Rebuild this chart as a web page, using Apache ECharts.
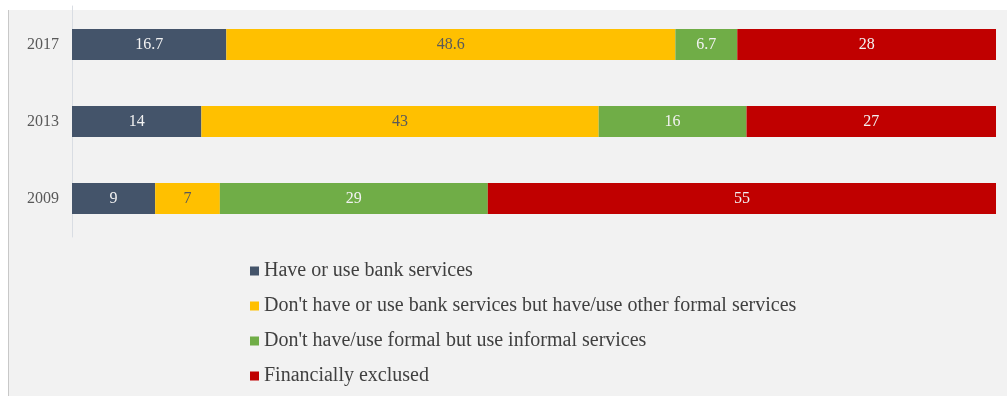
<!DOCTYPE html>
<html>
<head>
<meta charset="utf-8">
<script src="https://cdn.jsdelivr.net/npm/echarts@6/dist/echarts.min.js"></script>
<style>
  html, body { margin: 0; padding: 0; background: #ffffff; }
  #chart { width: 1007px; height: 396px; }
</style>
</head>
<body>
<div id="chart"></div>
<script>
// Survey years (bottom to top)
const years = ['2009', '2013', '2017'];

// Share of population (%) by access category, per year
const bankServices     = [9, 14, 16.7];
const otherFormal      = [7, 43, 48.6];
const informalOnly     = [29, 16, 6.7];
const excluded         = [55, 27, 28];

const seriesNames = [
  'Have or use bank services',
  "Don't have or use bank services but have/use other formal services",
  "Don't have/use formal but use informal services",
  'Financially exclused'
];
const seriesColors = ['#44546a', '#ffc000', '#70ad47', '#c00000'];
const labelColors = ['#f2f2f2', '#5a5a5a', '#f2f2f2', '#f2f2f2'];
const seriesData = [bankServices, otherFormal, informalOnly, excluded];

const chart = echarts.init(document.getElementById('chart'), null, { renderer: 'canvas' });

const serif = '"Liberation Serif", "Times New Roman", serif';

chart.setOption({
  animation: false,
  backgroundColor: '#ffffff',
  graphic: [
    {
      type: 'rect',
      z: -10,
      silent: true,
      shape: { x: 8, y: 10, width: 999, height: 386 },
      style: { fill: '#f2f2f2' }
    },
    {
      type: 'line',
      z: -9,
      silent: true,
      shape: { x1: 8.5, y1: 10, x2: 8.5, y2: 396 },
      style: { stroke: '#c8c8c8', lineWidth: 1 }
    }
  ],
  grid: { left: 72, right: 11, top: 6, bottom: 159, containLabel: false },
  xAxis: {
    type: 'value',
    min: 0,
    max: 100,
    show: false
  },
  yAxis: {
    type: 'category',
    data: years,
    axisLine: { show: true, lineStyle: { color: '#d9dde3', width: 1 } },
    axisTick: { show: false },
    axisLabel: {
      color: '#595959',
      fontFamily: serif,
      fontSize: 16,
      margin: 13
    }
  },
  legend: {
    orient: 'vertical',
    left: 245,
    top: 256,
    itemWidth: 9,
    itemHeight: 9,
    itemGap: 15,
    icon: 'rect',
    textStyle: {
      color: '#404040',
      fontFamily: serif,
      fontSize: 20,
      lineHeight: 20
    },
    data: seriesNames
  },
  series: seriesNames.map((name, i) => ({
    name: name,
    type: 'bar',
    stack: 'total',
    barWidth: 31,
    data: seriesData[i],
    itemStyle: { color: seriesColors[i] },
    label: {
      show: true,
      position: 'inside',
      color: labelColors[i],
      fontFamily: serif,
      fontSize: 16
    }
  }))
});
</script>
</body>
</html>
